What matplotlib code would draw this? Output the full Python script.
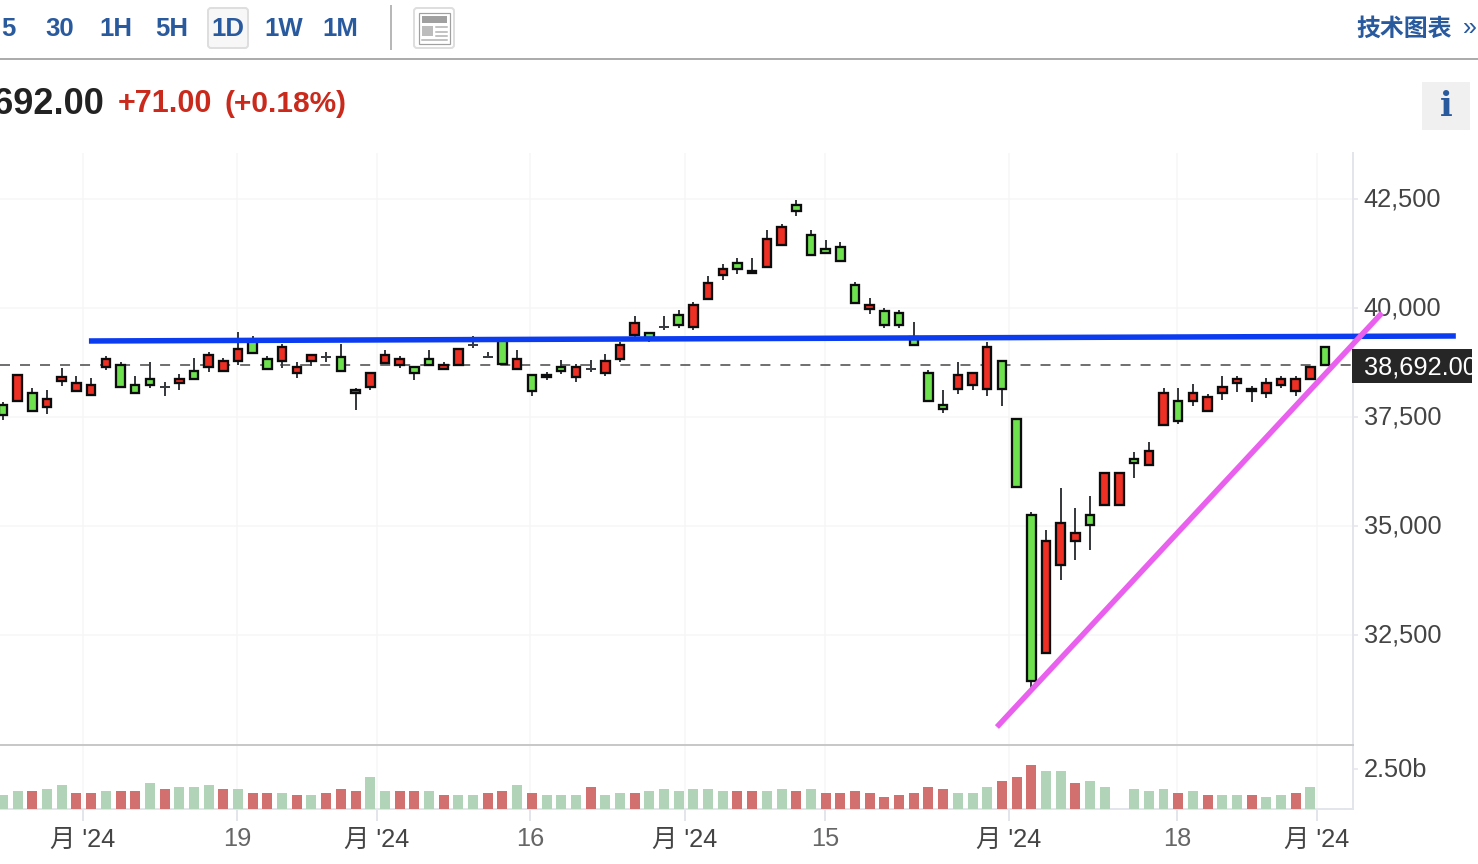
import numpy as np
import matplotlib
matplotlib.use("Agg")
import matplotlib.pyplot as plt
from matplotlib.patches import Rectangle, FancyBboxPatch
from matplotlib.transforms import ScaledTranslation

plt.rcParams["font.family"] = ["Liberation Sans", "Noto Sans CJK SC", "DejaVu Sans"]

highs = [37832, 38467, 38154, 38115, 38620, 38437, 38391, 38896, 38758, 38437,
         38758, 38299, 38483, 38850, 38988, 38850, 39447, 39355, 38896, 39171,
         38758, 38926, 38988, 39171, 38161, 38513, 39034, 38896, 38651, 39034,
         38758, 39064, 39355, 38988, 39301, 39034, 38467, 38529, 38804, 38712,
         38804, 38942, 39217, 39814, 39432, 39814, 39952, 40136, 40733, 41008,
         41146, 41146, 41789, 41926, 42477, 41789, 41559, 41513, 40595, 40227,
         39998, 39952, 39676, 38574, 38115, 38758, 38513, 39217, 38789, 37457,
         35314, 34901, 35865, 35406, 35681, 36217, 36217, 36692, 36921, 38161,
         38161, 38253, 38023, 38437, 38437, 38207, 38391, 38437, 38437, 38666,
         39110]
opens = [37534, 38467, 37625, 37916, 38421, 38284, 38238, 38835, 38177, 38039,
         38222, 38192, 38375, 38360, 38926, 38789, 39064, 38957, 38590, 39110,
         38651, 38926, 38873, 38544, 38108, 38513, 38926, 38835, 38513, 38682,
         38697, 39064, 39156, 38873, 38712, 38835, 38084, 38467, 38544, 38651,
         38597, 38789, 39156, 39661, 39309, 39569, 39600, 40074, 40579, 40901,
         40886, 40855, 41590, 41865, 42217, 41207, 41253, 41069, 40105, 40074,
         39600, 39600, 39141, 37855, 37671, 38467, 38513, 39110, 38130, 35881,
         31427, 34656, 35069, 34840, 35008, 36217, 36217, 36432, 36722, 38054,
         37396, 38054, 37962, 38192, 38375, 38146, 38284, 38375, 38360, 38651,
         38692]
closes = [37779, 37855, 38054, 37717, 38314, 38085, 37993, 38636, 38697, 38238,
          38375, 38192, 38268, 38559, 38636, 38544, 38773, 39263, 38835, 38773,
          38498, 38773, 38873, 38881, 38039, 38177, 38727, 38682, 38651, 38835,
          38590, 38697, 39156, 38873, 39263, 38590, 38467, 38406, 38651, 38406,
          38597, 38498, 38819, 39370, 39432, 39569, 39845, 39554, 40197, 40748,
          41039, 40794, 40931, 41437, 42370, 41681, 41360, 41406, 40534, 39967,
          39937, 39891, 39340, 38513, 37778, 38130, 38222, 38130, 38789, 37457,
          35253, 32069, 34090, 34641, 35253, 35467, 35467, 36539, 36386, 37304,
          37870, 37855, 37625, 38039, 38268, 38085, 38039, 38222, 38085, 38360,
          39110]
lows = [37426, 37855, 37625, 37564, 38207, 38085, 37993, 38574, 38177, 38039,
        38161, 37978, 38115, 38360, 38529, 38544, 38682, 38957, 38590, 38620,
        38391, 38666, 38758, 38544, 37656, 38115, 38727, 38620, 38345, 38682,
        38590, 38697, 39080, 38873, 38712, 38590, 37977, 38345, 38482, 38299,
        38529, 38437, 38758, 39309, 39217, 39493, 39539, 39493, 40197, 40641,
        40778, 40794, 40931, 41437, 42110, 41207, 41253, 41069, 40105, 39860,
        39539, 39539, 39141, 37855, 37595, 38023, 38115, 37978, 37748, 35881,
        31151, 32069, 33753, 34212, 34442, 35467, 35467, 36095, 36386, 37304,
        37335, 37748, 37625, 37886, 38069, 37840, 37932, 38161, 37978, 38360,
        38692]

# volume in billions, nan = no bar that day
volumes = [.85, 1.10, 1.10, 1.23, 1.48, .98, .98, 1.10, 1.10, 1.10,
           1.61, 1.23, 1.36, 1.36, 1.48, 1.23, 1.23, .98, .98, .98,
           .85, .85, .98, 1.23, 1.10, 1.99, 1.10, 1.10, 1.10, 1.10,
           .85, .85, .85, .98, 1.10, 1.48, .98, .85, .85, .85,
           1.36, .85, .98, .98, 1.10, 1.23, 1.10, 1.23, 1.23, 1.10,
           1.10, 1.10, 1.10, 1.23, 1.10, 1.23, .98, .98, 1.10, .98,
           .72, .85, .98, 1.36, 1.23, .98, .98, 1.36, 1.74, 1.99,
           2.76, 2.37, 2.37, 1.61, 1.74, 1.36, np.nan, 1.23, 1.10, 1.23,
           .98, 1.10, .85, .85, .85, .85, .72, .85, .98, 1.36]
vol_sides = list("ggrggrrgrr" "grgggrgrrg" "rgrrrggrrg" "rggrrgrggg"
                 "rggrgggggg" "rrggrgrrr" "r" "rrrrrggg" "rrr" "ggrgg" "gggg"
                 "rgrggrggrg")[:90]

price_ticks = [42500, 40000, 37500, 35000, 32500]
price_labels = ["42,500", "40,000", "37,500", "35,000", "32,500"]
date_ticks = [5.45, 15.93, 25.46, 35.9, 46.43, 55.96, 68.48, 79.92, 89.45]
date_labels = ["月 '24", "19", "月 '24", "16", "月 '24", "15", "月 '24", "18", "月 '24"]
last_price = 38692
blue_x, blue_y = [5.85, 98.9], [39240, 39355]
pink_x, pink_y = [67.66, 93.87], [30377, 39883]

W, H = 1478, 864
GREEN, RED, EDGE, WICK = "#6ee24e", "#ee2f24", "#0c0c0c", "#383c40"
GRID, AXIS = "#f6f6f6", "#e2e5ec"
BLUE_TXT = "#2a5a9e"
px = 0.72  # one pixel in points at dpi 100


def axes_px(x0, y0, x1, y1):
    return fig.add_axes([x0 / W, 1 - y1 / H, (x1 - x0) / W, (y1 - y0) / H])


def lift_labels(axis, pixels):
    # tick labels sit a little high in the reference
    for lab in axis.get_ticklabels():
        lab.set_transform(lab.get_transform()
                          + ScaledTranslation(0, pixels / 100, fig.dpi_scale_trans))


fig = plt.figure(figsize=(W / 100, H / 100), dpi=100)

# price panel
ax = axes_px(0, 153, 1353, 745)
ax.set_xlim(-0.204, 91.9)
ax.set_ylim(29964, 43556)
for s in ["top", "left", "bottom"]:
    ax.spines[s].set_visible(False)
ax.spines["right"].set_color(AXIS)
ax.spines["right"].set_linewidth(2 * px)
ax.yaxis.tick_right()
ax.set_yticks(price_ticks, price_labels)
ax.set_xticks(date_ticks, [""] * len(date_ticks))
ax.tick_params(axis="y", length=5 * px, width=1.5 * px, color=AXIS, pad=4.2,
               labelsize=18.3, labelcolor="#444444")
ax.tick_params(axis="x", length=0)
ax.grid(color=GRID, lw=1.5 * px)
ax.set_axisbelow(True)
lift_labels(ax.yaxis, 1.5)

ax.axhline(last_price, color="#444444", lw=1.5 * px, ls=(0, (6.67, 6.67)), zorder=1)

x = np.arange(len(opens))
o, c, h, l = map(np.array, (opens, closes, highs, lows))
ax.vlines(x, l, h, color=WICK, lw=2 * px, zorder=2)
flat = o == c
ax.hlines(o[flat], x[flat] - 0.34, x[flat] + 0.34, color=WICK, lw=2 * px, zorder=2)
up = c > o
down = c < o
ax.bar(x[up], (c - o)[up], bottom=o[up], width=0.58, color=GREEN, edgecolor=EDGE,
       linewidth=2.3 * px, zorder=3)
ax.bar(x[down], (o - c)[down], bottom=c[down], width=0.58, color=RED, edgecolor=EDGE,
       linewidth=2.3 * px, zorder=3)

# hand drawn trend lines run past the panel edge
ax.plot(blue_x, blue_y, color="#0c3cf0", lw=5.5 * px, clip_on=False, zorder=6,
        solid_capstyle="butt")
ax.plot(pink_x, pink_y, color="#ea60ee", lw=5.5 * px, clip_on=False, zorder=6,
        solid_capstyle="butt")

# volume panel
vx = axes_px(0, 745, 1353, 808.5)
vx.set_xlim(ax.get_xlim())
vx.set_ylim(0, 4.03)
vx.set_facecolor("none")
vx.spines["left"].set_visible(False)
vx.spines["top"].set_color("#c8c8c8")
vx.spines["top"].set_linewidth(2 * px)
vx.spines["right"].set_color(AXIS)
vx.spines["right"].set_linewidth(2 * px)
vx.spines["bottom"].set_color(AXIS)
vx.spines["bottom"].set_linewidth(2 * px)
vol_colors = ["#b1d4b8" if s == "g" else "#d1706e" for s in vol_sides]
vx.bar(np.arange(len(volumes)), volumes, width=0.68, color=vol_colors, zorder=3)
vx.yaxis.tick_right()
vx.set_yticks([2.5], ["2.50b"])
vx.set_xticks(date_ticks, date_labels)
vx.tick_params(axis="y", length=5 * px, width=1.5 * px, color=AXIS, pad=4.2,
               labelsize=18.3, labelcolor="#444444")
vx.tick_params(axis="x", length=12 * px, width=2 * px, color=AXIS, pad=5,
               labelsize=18.3, labelcolor="#444444")
lift_labels(vx.yaxis, 1.5)
for lab in vx.get_xticklabels():
    if lab.get_text().isdigit():
        lab.set_color("#666666")
vx.grid(axis="x", color=GRID, lw=1.5 * px)
vx.set_axisbelow(True)

# toolbar and header drawn in figure pixels
ui = axes_px(0, 0, W, H)
ui.set_xlim(0, W)
ui.set_ylim(H, 0)
ui.axis("off")
ui.patch.set_alpha(0)

ui.add_patch(FancyBboxPatch((208, 8), 40, 40, boxstyle="round,pad=0,rounding_size=3",
                            fc="#f7f7f7", ec="#dedede", lw=2 * px))
for label, tx in [("5", 8), ("30", 60), ("1H", 116), ("5H", 172), ("1D", 228),
                  ("1W", 284), ("1M", 340)]:
    ui.text(tx, 29.5, label, color=BLUE_TXT, fontsize=18.5, fontweight="bold",
            ha="center", va="center")
ui.plot([391, 391], [6, 49], color="#b8b8b8", lw=2 * px)
ui.plot([0, W], [59, 59], color="#acacac", lw=2 * px)

ui.add_patch(FancyBboxPatch((414, 8), 40, 40, boxstyle="round,pad=0,rounding_size=3",
                            fc="#ffffff", ec="#dedede", lw=2 * px))
ui.add_patch(Rectangle((419, 13), 31, 31, fc="white", ec="#a0a0a0", lw=1.2 * px))
ui.add_patch(Rectangle((422, 16), 25, 7, fc="#a0a0a0", ec="none"))
ui.add_patch(Rectangle((422, 26), 11, 10, fc="#bcbcbc", ec="none"))
for ly in [27, 31.5, 36]:
    ui.plot([436, 447], [ly, ly], color="#b0b0b0", lw=1.5 * px)
ui.plot([422, 447], [40, 40], color="#b0b0b0", lw=1.5 * px)

ui.text(104, 104, "38,692.00", color="#222222", fontsize=26, fontweight="bold",
        ha="right", va="center")
ui.text(118, 104, "+71.00", color="#c92a1c", fontsize=22, fontweight="bold",
        ha="left", va="center")
ui.text(224, 104, "(+0.18%)", color="#c92a1c", fontsize=21.5, fontweight="bold",
        ha="left", va="center")

ui.text(1404, 29.5, "技术图表", color=BLUE_TXT, fontsize=17.2, fontweight="bold",
        ha="center", va="center")
ui.text(1470, 28, "»", color=BLUE_TXT, fontsize=18, ha="center", va="center")

ui.add_patch(Rectangle((1422, 82), 48, 48, fc="#f0f0f0", ec="none"))
ui.text(1446, 107, "i", color=BLUE_TXT, fontsize=24, fontweight="bold",
        family="DejaVu Serif", ha="center", va="center")

# last price tag, text cut off by the tag's right edge
tag = Rectangle((1352, 349), 120, 34, fc="#262626", ec="none", zorder=8)
ui.add_patch(tag)
tag_text = ui.text(1364, 367, "38,692.00", color="white", fontsize=18.3, ha="left",
                   va="center", zorder=9)
tag_text.set_clip_path(tag)

fig.savefig("out.png", dpi=100)
